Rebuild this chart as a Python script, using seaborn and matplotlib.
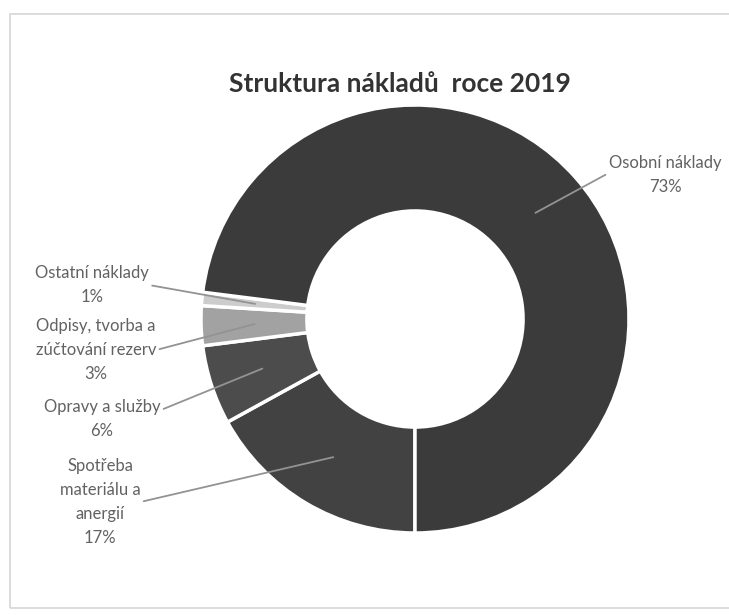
import matplotlib
matplotlib.use("Agg")
import matplotlib.pyplot as plt
import seaborn as sns
import numpy as np
from matplotlib.patches import Rectangle

# ---- data ----
categories = ["Spotřeba\nmateriálu a\nanergií", "Opravy a služby",
              "Odpisy, tvorba a\nzúčtování rezerv", "Ostatní náklady", "Osobní náklady"]
values = [17, 6, 3, 1, 73]
colors = ["#424242", "#4c4c4c", "#a2a2a2", "#cccccc", "#3b3b3b"]
title = "Struktura nákladů  roce 2019"

# label text centres (pixels) - layout only
label_pos = [(100, 502), (102, 419), (96, 350), (92, 285), (665, 175)]
label_rel = [(1, 0.5), (1, 0.72), (1, 0.5), (1, 0.5), (0, 0.55)]

sns.set_theme(style="white")
plt.rcParams['font.family'] = ['Lato', 'DejaVu Sans']

W, H = 729, 615
fig = plt.figure(figsize=(W / 100, H / 100), dpi=100)
fig.patch.set_facecolor("white")

cx, cy, R = 415, 319, 214
ax = fig.add_axes([(cx - R) / W, (H - cy - R) / H, 2 * R / W, 2 * R / H])
wedges, _ = ax.pie(values, colors=colors, startangle=-90, counterclock=False, radius=1,
                   wedgeprops=dict(width=0.495, edgecolor="white", linewidth=2.5))
for w in wedges:
    w.set_clip_on(False)
ax.set_xlim(-1, 1)
ax.set_ylim(-1, 1)
ax.set_aspect("equal")
ax.axis("off")

for w, cat, v, (px, py), rel in zip(wedges, categories, values, label_pos, label_rel):
    mid = np.deg2rad((w.theta1 + w.theta2) / 2)
    xy = (0.75 * np.cos(mid), 0.75 * np.sin(mid))
    ax.annotate(f"{cat}\n{v}%", xy=xy, xycoords="data",
                xytext=(px / W, 1 - py / H), textcoords="figure fraction",
                ha="center", va="center", fontsize=12, color="#626262",
                linespacing=1.6, annotation_clip=False,
                arrowprops=dict(arrowstyle="-", color="#939393", lw=1.3,
                                relpos=rel, shrinkA=0, shrinkB=0))

fig.text(400 / W, 1 - 92 / H, title, ha="center", va="baseline",
         fontsize=19, fontweight="bold", color="#333333")

fig.patches.append(Rectangle((10 / W, 1 - 608 / H), 1.5, (608 - 14) / H,
                             transform=fig.transFigure, fill=False,
                             edgecolor="#d6d6d6", lw=1.2))

fig.savefig("out.png", dpi=100, facecolor="white")
